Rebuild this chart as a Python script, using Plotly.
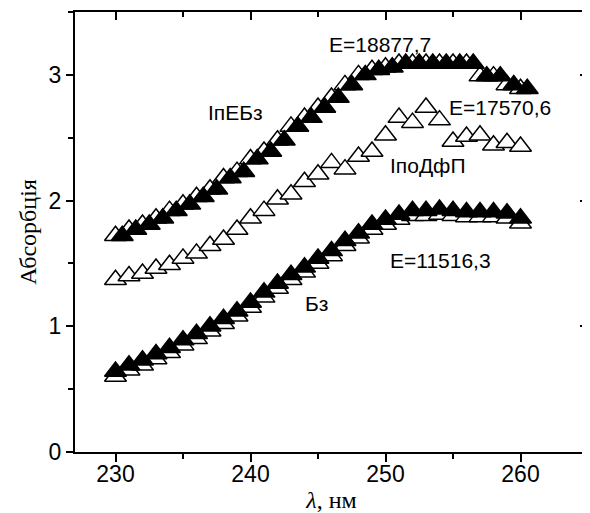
import plotly.graph_objects as go

# ---- data ----
wavelength = [230, 231, 232, 233, 234, 235, 236, 237, 238, 239, 240,
              241, 242, 243, 244, 245, 246, 247, 248, 249, 250,
              251, 252, 253, 254, 255, 256, 257, 258, 259, 260]

ipebz = [1.72, 1.77, 1.81, 1.86, 1.92, 1.97, 2.03, 2.09, 2.18, 2.23, 2.33,
         2.39, 2.48, 2.59, 2.66, 2.74, 2.82, 2.92, 3.00, 3.04, 3.06,
         3.09, 3.09, 3.09, 3.09, 3.09, 3.09, 2.99, 2.99, 2.92, 2.89]

ipodfp = [1.37, 1.40, 1.42, 1.46, 1.49, 1.54, 1.58, 1.64, 1.69, 1.77, 1.86,
          1.92, 2.01, 2.05, 2.15, 2.21, 2.30, 2.25, 2.35, 2.39, 2.52,
          2.66, 2.62, 2.74, 2.64, 2.47, 2.51, 2.52, 2.44, 2.46, 2.43]

bz = [0.60, 0.65, 0.69, 0.74, 0.79, 0.85, 0.90, 0.96, 1.02, 1.08, 1.15,
      1.23, 1.30, 1.37, 1.43, 1.50, 1.56, 1.64, 1.70, 1.77, 1.81,
      1.85, 1.88, 1.88, 1.89, 1.88, 1.87, 1.87, 1.87, 1.86, 1.82]

label_texts = ["E=18877,7", "ІпЕБз", "E=17570,6", "ІпоДфП", "E=11516,3", "Бз"]
label_x = [249.6, 238.9, 258.5, 253.1, 254.1, 244.9]
label_y = [3.24, 2.70, 2.74, 2.28, 1.52, 1.18]

x_ticks = [230, 240, 250, 260]
y_ticks = [0, 1, 2, 3]

# style: shift of the overlapping filled markers
TOP_SHIFT_X = 0.5
BOT_SHIFT_Y = 0.04

MS = 19
LW = 1.5
FONT_SANS = "Liberation Sans, Arial, sans-serif"
FONT_SERIF = "Liberation Serif, Times New Roman, serif"

open_marker = dict(symbol="triangle-up", size=MS, color="white",
                   line=dict(color="black", width=LW))
fill_marker = dict(symbol="triangle-up", size=MS, color="black",
                   line=dict(color="black", width=LW))

fig = go.Figure()
# ІпЕБз: open + filled (shifted right)
fig.add_trace(go.Scatter(x=wavelength, y=ipebz, mode="markers",
                         marker=open_marker, showlegend=False))
fig.add_trace(go.Scatter(x=[w + TOP_SHIFT_X for w in wavelength], y=ipebz,
                         mode="markers", marker=fill_marker, showlegend=False))
# Бз: open
fig.add_trace(go.Scatter(x=wavelength, y=bz, mode="markers",
                         marker=open_marker, showlegend=False))
# ІпоДфП: open (on mirrored top x axis, same range)
fig.add_trace(go.Scatter(x=wavelength, y=ipodfp, mode="markers",
                         marker=open_marker, showlegend=False,
                         xaxis="x2", yaxis="y"))
# Бз: filled (shifted up), on mirrored right y axis, same range
fig.add_trace(go.Scatter(x=wavelength, y=[v + BOT_SHIFT_Y for v in bz],
                         mode="markers", marker=fill_marker, showlegend=False,
                         xaxis="x", yaxis="y2"))

for t, lx, ly in zip(label_texts, label_x, label_y):
    fig.add_annotation(x=lx, y=ly, text=t, showarrow=False,
                       xanchor="center", yanchor="middle",
                       font=dict(family=FONT_SANS, size=21, color="black"))

xr = [227.0, 265.0]
yr = [0, 3.5]

common = dict(showgrid=False, zeroline=False, showline=True, automargin=False,
              linecolor="black", linewidth=2, tickcolor="black", tickwidth=2)

# page body has an 8px default margin -> figure 8px smaller
fig.update_layout(
    width=582, height=505,
    margin=dict(l=67, r=2, t=4, b=61),
    paper_bgcolor="white", plot_bgcolor="white",
    xaxis=dict(range=xr, tickvals=x_ticks, ticks="outside", ticklen=8,
               ticklabelstandoff=-8,
               tickfont=dict(family=FONT_SANS, size=23, color="black"),
               minor=dict(dtick=5, tick0=230, ticks="outside", ticklen=5,
                          tickwidth=2, tickcolor="black"),
               title=dict(text="<i>λ</i>, нм", standoff=15,
                          font=dict(family=FONT_SERIF, size=24, color="black")),
               **common),
    yaxis=dict(range=yr, tickvals=y_ticks, ticks="outside", ticklen=7,
               tickfont=dict(family=FONT_SANS, size=23, color="black"),
               minor=dict(dtick=0.5, tick0=0, ticks="outside", ticklen=5,
                          tickwidth=2, tickcolor="black"),
               title=dict(text="Абсорбція", standoff=5,
                          font=dict(family=FONT_SERIF, size=24, color="black")),
               **common),
    xaxis2=dict(range=xr, overlaying="x", side="top", anchor="y",
                tickvals=x_ticks, ticks="inside", ticklen=8,
                showticklabels=False,
                minor=dict(dtick=5, tick0=230, ticks="inside", ticklen=5,
                           tickwidth=2, tickcolor="black"),
                **common),
    yaxis2=dict(range=yr, overlaying="y", side="right", anchor="x",
                tickvals=y_ticks, ticks="inside", ticklen=8,
                showticklabels=False,
                minor=dict(dtick=0.5, tick0=0, ticks="inside", ticklen=5,
                           tickwidth=2, tickcolor="black"),
                **common),
)

fig.write_html("out.html")
